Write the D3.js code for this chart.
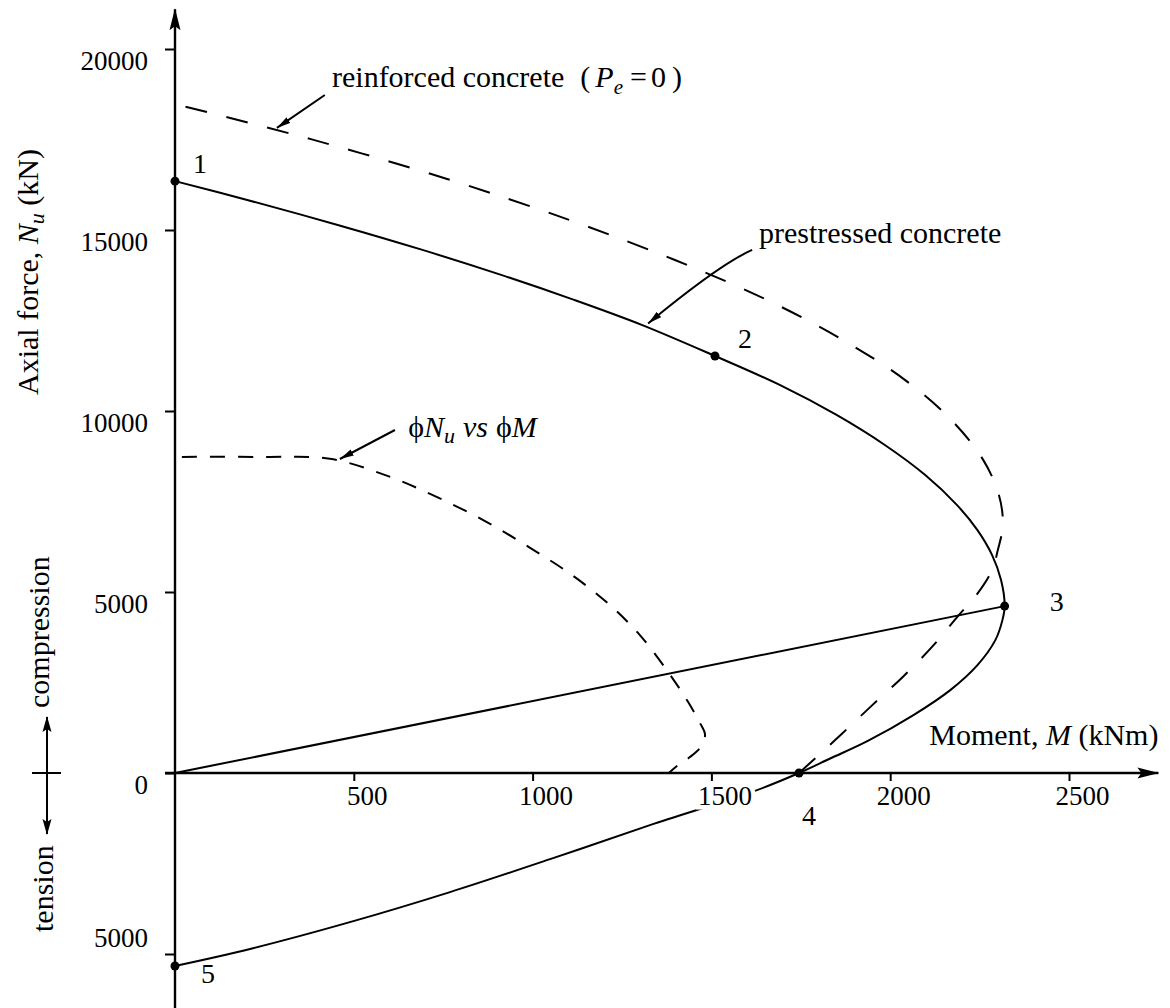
<!DOCTYPE html>
<html>
<head>
<meta charset="utf-8">
<script src="https://cdn.jsdelivr.net/npm/d3@7"></script>
<style>
  html, body { margin: 0; padding: 0; background: #fff; }
  svg { display: block; font-family: "Liberation Serif", "Times New Roman", serif; }
</style>
</head>
<body>
<svg id="chart" width="1170" height="1008"></svg>
<script>
// ---- data: moment M (kNm) vs axial force Nu (kN) ----
const xTickValues = [500, 1000, 1500, 2000, 2500];
const yTickValues = [-5000, 0, 5000, 10000, 15000, 20000];

// prestressed section: 1 (squash load) -> 2 -> 3 (balanced) -> 4 (pure bending) -> 5 (pure tension)
const prestressedCurve = [
  [0, 16350], [202, 15830], [455, 15140], [692, 14450], [912, 13760], [1116, 13070],
  [1305, 12380], [1510, 11520], [1691, 10720], [1850, 9890], [1985, 9060], [2098, 8230],
  [2187, 7400], [2244, 6710], [2285, 6020], [2310, 5330], [2320, 4610], [2314, 4230],
  [2294, 3670], [2244, 2980], [2168, 2290], [2065, 1600], [1936, 880], [1832, 400],
  [1745, 0], [1620, -500], [1328, -1440], [1049, -2380], [769, -3290], [489, -4120],
  [210, -4860], [0, -5330]
];

// same section without prestress (Pe = 0)
const reinforcedCurve = [
  [0, 18480], [380, 17510], [761, 16410], [1102, 15280], [1398, 14170], [1655, 13070],
  [1868, 11960], [2041, 10860], [2171, 9750], [2260, 8650], [2304, 7680], [2315, 6850],
  [2301, 6160], [2285, 5610], [2245, 4970], [2190, 4340], [2122, 3540], [2038, 2680],
  [1944, 1820], [1846, 910], [1745, 0]
];

// design strength curve phiNu vs phiM (with the axial load cap)
const factoredCurve = [
  [0, 8730], [240, 8730], [433, 8680], [596, 8200], [733, 7620], [867, 6960], [993, 6220],
  [1110, 5470], [1216, 4640], [1300, 3810], [1379, 2790], [1435, 1960], [1468, 1380],
  [1482, 1080], [1474, 770], [1440, 440], [1407, 220], [1381, 0]
];

const keyPoints = [
  { id: "1", m: 0,    n: 16350 },
  { id: "2", m: 1510, n: 11520 },
  { id: "3", m: 2320, n: 4610 },
  { id: "4", m: 1745, n: 0 },
  { id: "5", m: 0,    n: -5330 }
];

// ---- drawing ----
const W = 1170, H = 1008;
const svg = d3.select("#chart");
svg.append("rect").attr("width", W).attr("height", H).attr("fill", "#fff");

const x = d3.scaleLinear().domain([0, 2500]).range([175, 1069]);
const y = d3.scaleLinear().domain([-5000, 20000]).range([954, 49]);

const defs = svg.append("defs");
defs.append("marker")
  .attr("id", "leadHead").attr("viewBox", "0 0 14 8")
  .attr("refX", 14).attr("refY", 4)
  .attr("markerWidth", 14).attr("markerHeight", 8)
  .attr("markerUnits", "userSpaceOnUse").attr("orient", "auto")
  .append("path").attr("d", "M0,0.6 L14,4 L0,7.4 Z").attr("fill", "#000");
defs.append("marker")
  .attr("id", "axisHead").attr("viewBox", "0 0 22 12")
  .attr("refX", 21).attr("refY", 6)
  .attr("markerWidth", 22).attr("markerHeight", 12)
  .attr("markerUnits", "userSpaceOnUse").attr("orient", "auto")
  .append("path").attr("d", "M0,0.5 L22,6 L0,11.5 L4,6 Z").attr("fill", "#000");
defs.append("marker")
  .attr("id", "smallHead").attr("viewBox", "0 0 16 10")
  .attr("refX", 15).attr("refY", 5)
  .attr("markerWidth", 16).attr("markerHeight", 10)
  .attr("markerUnits", "userSpaceOnUse").attr("orient", "auto-start-reverse")
  .append("path").attr("d", "M0,0.5 L16,5 L0,9.5 L3,5 Z").attr("fill", "#000");

// axes extents (beyond the tick range, ending in arrows)
const mAxisStart = -28, mAxisEnd = 2750;
const nAxisBottom = -6700, nAxisTop = 21100;

const axes = svg.append("g").attr("stroke", "#000").attr("stroke-width", 2.4).attr("fill", "none");
axes.append("line")
  .attr("x1", x(0)).attr("x2", x(0))
  .attr("y1", y(nAxisBottom)).attr("y2", y(nAxisTop))
  .attr("marker-end", "url(#axisHead)");
axes.append("line")
  .attr("x1", x(mAxisStart)).attr("x2", x(mAxisEnd))
  .attr("y1", y(0)).attr("y2", y(0))
  .attr("marker-end", "url(#axisHead)");

// curves
const line = d3.line().x(d => x(d[0])).y(d => y(d[1])).curve(d3.curveCatmullRom.alpha(0.5));
const plot = svg.append("g").attr("fill", "none").attr("stroke", "#000");

plot.append("path").attr("d", line(reinforcedCurve))
  .attr("stroke-width", 2).attr("stroke-dasharray", "22 20").attr("stroke-dashoffset", 31);
plot.append("path").attr("d", line(factoredCurve))
  .attr("stroke-width", 2).attr("stroke-dasharray", "15 13").attr("stroke-dashoffset", 21);
plot.append("path").attr("d", line(prestressedCurve)).attr("stroke-width", 2);

// radial line from the origin to the balanced point
const balanced = keyPoints.find(p => p.id === "3");
plot.append("path")
  .attr("d", d3.line().x(d => x(d[0])).y(d => y(d[1]))([[0, 0], [balanced.m, balanced.n]]))
  .attr("stroke-width", 2);

// y ticks (tension side shown as magnitude)
const yAxis = svg.append("g")
  .attr("transform", `translate(${x(0)},0)`)
  .call(d3.axisLeft(y).tickValues(yTickValues).tickSize(10).tickPadding(17)
    .tickFormat(d => String(Math.abs(d))))
  .attr("font-family", null).attr("font-size", 27);
yAxis.select(".domain").remove();
yAxis.selectAll(".tick line").attr("stroke-width", 2);
yAxis.selectAll(".tick text").attr("dy", d => (d < 0 ? -8 : 20) + "px");

// x ticks; the white halo lets "1500" mask the tension branch behind it
const xAxis = svg.append("g")
  .attr("transform", `translate(0,${y(0)})`)
  .call(d3.axisBottom(x).tickValues(xTickValues).tickSize(8).tickPadding(5).tickSizeOuter(0)
    .tickFormat(d3.format("d")))
  .attr("font-family", null).attr("font-size", 27);
xAxis.select(".domain").remove();
xAxis.selectAll(".tick line").attr("stroke-width", 2);
xAxis.selectAll(".tick text")
  .attr("dx", "13px")
  .attr("stroke", "#fff").attr("stroke-width", 9).attr("paint-order", "stroke");

// key points
const labelOffset = { "1": [25, -18], "2": [30, -18], "3": [52, -5], "4": [10, 42], "5": [33, 7] };
svg.append("g").selectAll("circle").data(keyPoints).join("circle")
  .attr("cx", d => x(d.m)).attr("cy", d => y(d.n)).attr("r", 4.5).attr("fill", "#000");
svg.append("g").attr("font-size", 28).attr("text-anchor", "middle")
  .selectAll("text").data(keyPoints).join("text")
  .attr("x", d => x(d.m) + labelOffset[d.id][0])
  .attr("y", d => y(d.n) + labelOffset[d.id][1])
  .attr("dy", "0.35em")
  .text(d => d.id);

// annotations
const notes = svg.append("g").attr("font-size", 30).attr("fill", "#000");
const leaders = svg.append("g").attr("fill", "none").attr("stroke", "#000").attr("stroke-width", 2);

// reinforced concrete (Pe = 0)
const t1 = notes.append("text").attr("x", x(439)).attr("y", y(18950));
t1.append("tspan").text("reinforced concrete");
t1.append("tspan").attr("dx", 16).text("(");
t1.append("tspan").attr("dx", 5).attr("font-style", "italic").text("P");
t1.append("tspan").attr("font-style", "italic").attr("font-size", 21).attr("dy", 7).text("e");
t1.append("tspan").attr("dx", 7).attr("dy", -7).text("=");
t1.append("tspan").attr("dx", 4).text("0");
t1.append("tspan").attr("dx", 6).text(")");
leaders.append("line")
  .attr("x1", x(419)).attr("y1", y(18730)).attr("x2", x(285)).attr("y2", y(17820))
  .attr("marker-end", "url(#leadHead)");

// prestressed concrete
notes.append("text").attr("x", x(1633)).attr("y", y(14640)).text("prestressed concrete");
leaders.append("path")
  .attr("d", `M${x(1614)},${y(14450)} Q${x(1524)},${y(14060)} ${x(1323)},${y(12420)}`)
  .attr("marker-end", "url(#leadHead)");

// phiNu vs phiM
const t3 = notes.append("text").attr("x", x(652)).attr("y", y(9280));
t3.append("tspan").text("\u03D5");
t3.append("tspan").attr("font-style", "italic").text("N");
t3.append("tspan").attr("font-style", "italic").attr("font-size", 22).attr("dy", 6).text("u");
t3.append("tspan").attr("font-style", "italic").attr("dx", 8).attr("dy", -6).text("vs");
t3.append("tspan").attr("dx", 8).text("\u03D5");
t3.append("tspan").attr("font-style", "italic").text("M");
leaders.append("line")
  .attr("x1", x(615)).attr("y1", y(9475)).attr("x2", x(461)).attr("y2", y(8674))
  .attr("marker-end", "url(#leadHead)");

// axis titles
const mt = notes.append("text").attr("x", x(mAxisEnd)).attr("y", y(0) - 28).attr("text-anchor", "end");
mt.append("tspan").text("Moment, ");
mt.append("tspan").attr("font-style", "italic").text("M");
mt.append("tspan").text(" (kNm)");

const nt = notes.append("text").attr("transform", "translate(38,272) rotate(-90)").attr("text-anchor", "middle");
nt.append("tspan").text("Axial force, ");
nt.append("tspan").attr("font-style", "italic").text("N");
nt.append("tspan").attr("font-style", "italic").attr("font-size", 22).attr("dy", 6).text("u");
nt.append("tspan").attr("dy", -6).text(" (kN)");

notes.append("text").attr("transform", "translate(49,708) rotate(-90)").text("compression");
notes.append("text").attr("transform", "translate(53,932) rotate(-90)").text("tension");

// compression / tension sign arrow
leaders.append("line").attr("x1", 47).attr("x2", 47).attr("y1", y(0)).attr("y2", y(0) - 56)
  .attr("marker-end", "url(#smallHead)");
leaders.append("line").attr("x1", 47).attr("x2", 47).attr("y1", y(0)).attr("y2", y(0) + 61)
  .attr("marker-end", "url(#smallHead)");
leaders.append("line").attr("x1", 32).attr("x2", 61).attr("y1", y(0)).attr("y2", y(0));
</script>
</body>
</html>
